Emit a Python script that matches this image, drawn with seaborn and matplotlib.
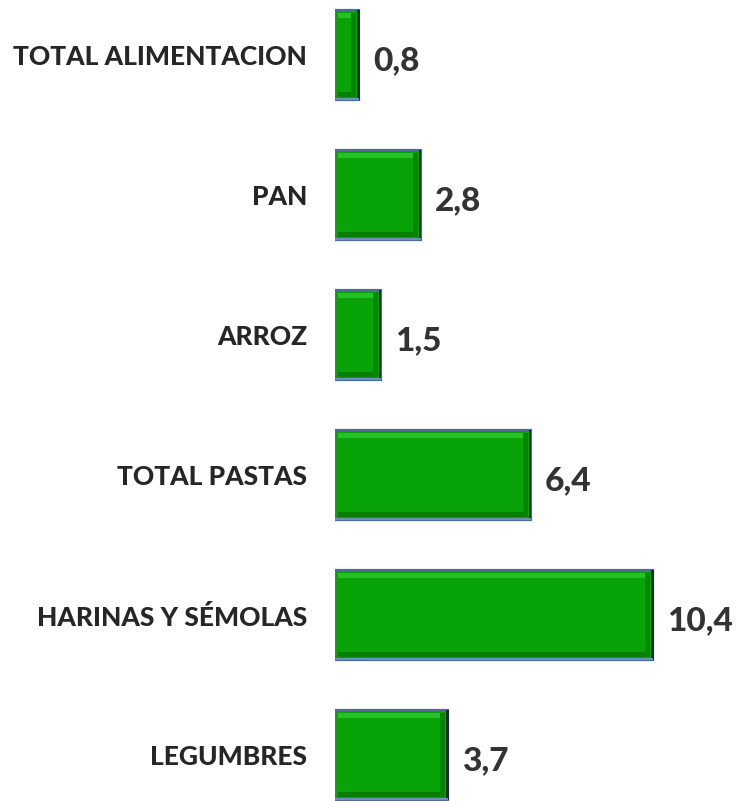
import matplotlib
matplotlib.use("Agg")
import matplotlib.pyplot as plt
import matplotlib.patches as mpatches
import pandas as pd
import seaborn as sns

sns.set_style("white")
plt.rcParams['font.family'] = ['Lato', 'DejaVu Sans']

# datos del gráfico
categorias = ["TOTAL ALIMENTACION", "PAN", "ARROZ", "TOTAL PASTAS",
              "HARINAS Y SÉMOLAS", "LEGUMBRES"]
valores = [0.8, 2.8, 1.5, 6.4, 10.4, 3.7]
etiquetas = ["0,8", "2,8", "1,5", "6,4", "10,4", "3,7"]

dados = pd.DataFrame({"categoria": categorias, "valor": valores})

W, H = 738, 801
fig = plt.figure(figsize=(W / 100, H / 100), dpi=100)
# eje a partir del pixel 335, 30.6 px por unidad
ax = fig.add_axes([335 / W, 0, 1 - 335 / W, 1])

sns.barplot(data=dados, x="valor", y="categoria", orient="h", order=categorias,
            color="#07A307", saturation=1, width=0.64,
            edgecolor="#4A6E98", linewidth=1.6, ax=ax)

ax.set_xlim(0, (W - 335) / 30.6)
ax.set_ylim(5 + 46 / 140, -55 / 140)

# efecto de bisel en cada barra
px_x = 1 / 30.6
px_y = 1 / 140
for p in ax.patches[:]:
    x0, y0 = p.get_x(), p.get_y()
    w, h = p.get_width(), p.get_height()
    # franja clara arriba
    ax.add_patch(mpatches.Rectangle((x0 + 3 * px_x, y0 + 3 * px_y), w - 6 * px_x, 5 * px_y,
                                    facecolor="#27C127", edgecolor="none", zorder=3))
    # franja oscura abajo
    ax.add_patch(mpatches.Rectangle((x0 + 3 * px_x, y0 + h - 8 * px_y), w - 6 * px_x, 5 * px_y,
                                    facecolor="#057E05", edgecolor="none", zorder=3))
    # franja oscura a la derecha
    ax.add_patch(mpatches.Rectangle((x0 + w - 8 * px_x, y0 + 3 * px_y), 5 * px_x, h - 6 * px_y,
                                    facecolor="#058405", edgecolor="none", zorder=3))
    # borde oscuro derecho
    ax.add_patch(mpatches.Rectangle((x0 + w - 2 * px_x, y0), 2.5 * px_x, h,
                                    facecolor="#1B2838", edgecolor="none", zorder=4))
    # borde inferior
    ax.add_patch(mpatches.Rectangle((x0, y0 + h - 2 * px_y), w, 2 * px_y,
                                    facecolor="#6E8FB5", edgecolor="none", zorder=4))

for i, (v, t) in enumerate(zip(valores, etiquetas)):
    ax.annotate(t, (v, i), xytext=(10, -4), textcoords="offset points",
                ha="left", va="center", fontsize=24, fontweight=900, color="#333333")

ax.set_xlabel("")
ax.set_ylabel("")
ax.set_xticks([])
ax.tick_params(axis="y", length=0, pad=20)
for lab in ax.get_yticklabels():
    lab.set_fontsize(19)
    lab.set_fontweight(900)
    lab.set_color("#262626")
sns.despine(ax=ax, left=True, bottom=True)

fig.savefig("out.png", dpi=100)
